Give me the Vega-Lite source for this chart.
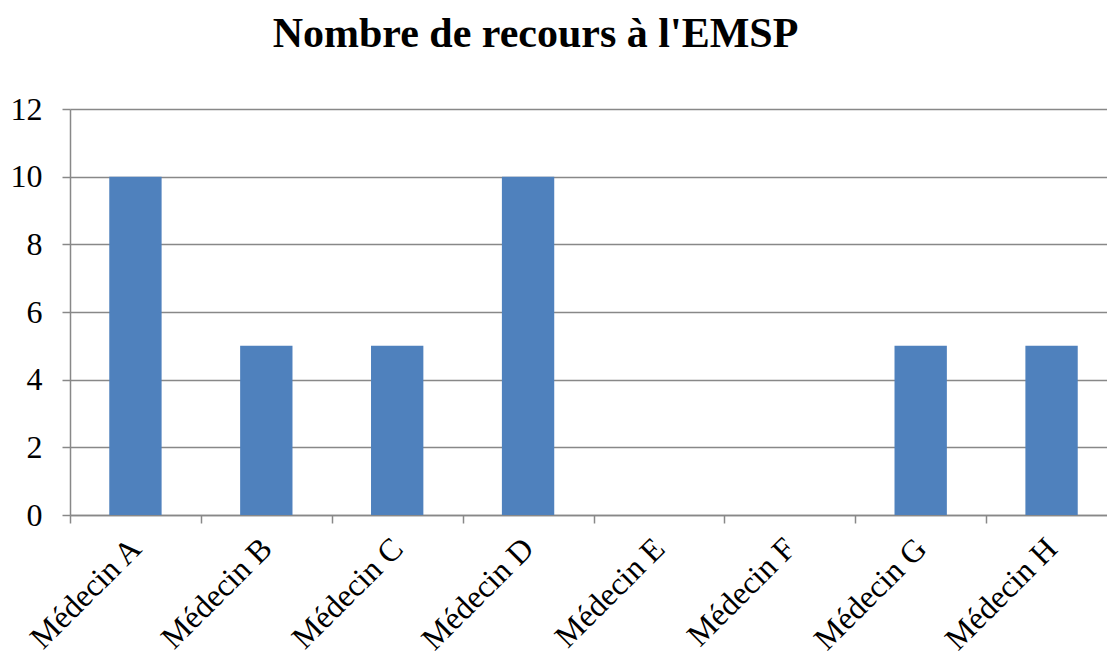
{
  "$schema": "https://vega.github.io/schema/vega-lite/v6.json",
  "autosize": {"type": "none"},
  "width": 1037,
  "height": 406,
  "padding": {"left": 70, "top": 109, "right": 0, "bottom": 137},
  "background": "white",
  "title": {
    "text": "Nombre de recours à l'EMSP",
    "font": "Liberation Serif",
    "fontSize": 42,
    "fontWeight": "bold",
    "color": "black",
    "anchor": "middle",
    "dx": -53,
    "offset": 37
  },
  "data": {
    "values": [
      {"medecin": "Médecin A", "n": 10},
      {"medecin": "Médecin B", "n": 5},
      {"medecin": "Médecin C", "n": 5},
      {"medecin": "Médecin D", "n": 10},
      {"medecin": "Médecin E", "n": 0},
      {"medecin": "Médecin F", "n": 0},
      {"medecin": "Médecin G", "n": 5},
      {"medecin": "Médecin H", "n": 5}
    ]
  },
  "mark": {"type": "bar", "color": "#4F81BD", "width": {"band": 0.4}},
  "encoding": {
    "x": {
      "field": "medecin",
      "type": "nominal",
      "sort": null,
      "scale": {"paddingInner": 0, "paddingOuter": 0, "range": [0, 1047]},
      "axis": {
        "title": null,
        "labelAngle": -45,
        "labelAlign": "right",
        "labelBaseline": "middle",
        "labelFont": "Liberation Serif",
        "labelFontSize": 32,
        "labelColor": "black",
        "labelPadding": 20,
        "labelOverlap": false,
        "domainColor": "#888888",
        "domainWidth": 1.5,
        "tickColor": "#888888",
        "tickWidth": 1.5,
        "tickSize": 8,
        "tickBand": "extent",
        "grid": false
      }
    },
    "y": {
      "field": "n",
      "type": "quantitative",
      "scale": {"domain": [0, 12], "nice": false},
      "axis": {
        "title": null,
        "values": [0, 2, 4, 6, 8, 10, 12],
        "labelFont": "Liberation Serif",
        "labelFontSize": 32,
        "labelColor": "black",
        "labelPadding": 20,
        "labelOverlap": false,
        "domainColor": "#888888",
        "domainWidth": 1.5,
        "tickColor": "#888888",
        "tickWidth": 1.5,
        "tickSize": 8,
        "gridColor": "#888888",
        "gridWidth": 1.5
      }
    }
  },
  "config": {"view": {"stroke": null}}
}
